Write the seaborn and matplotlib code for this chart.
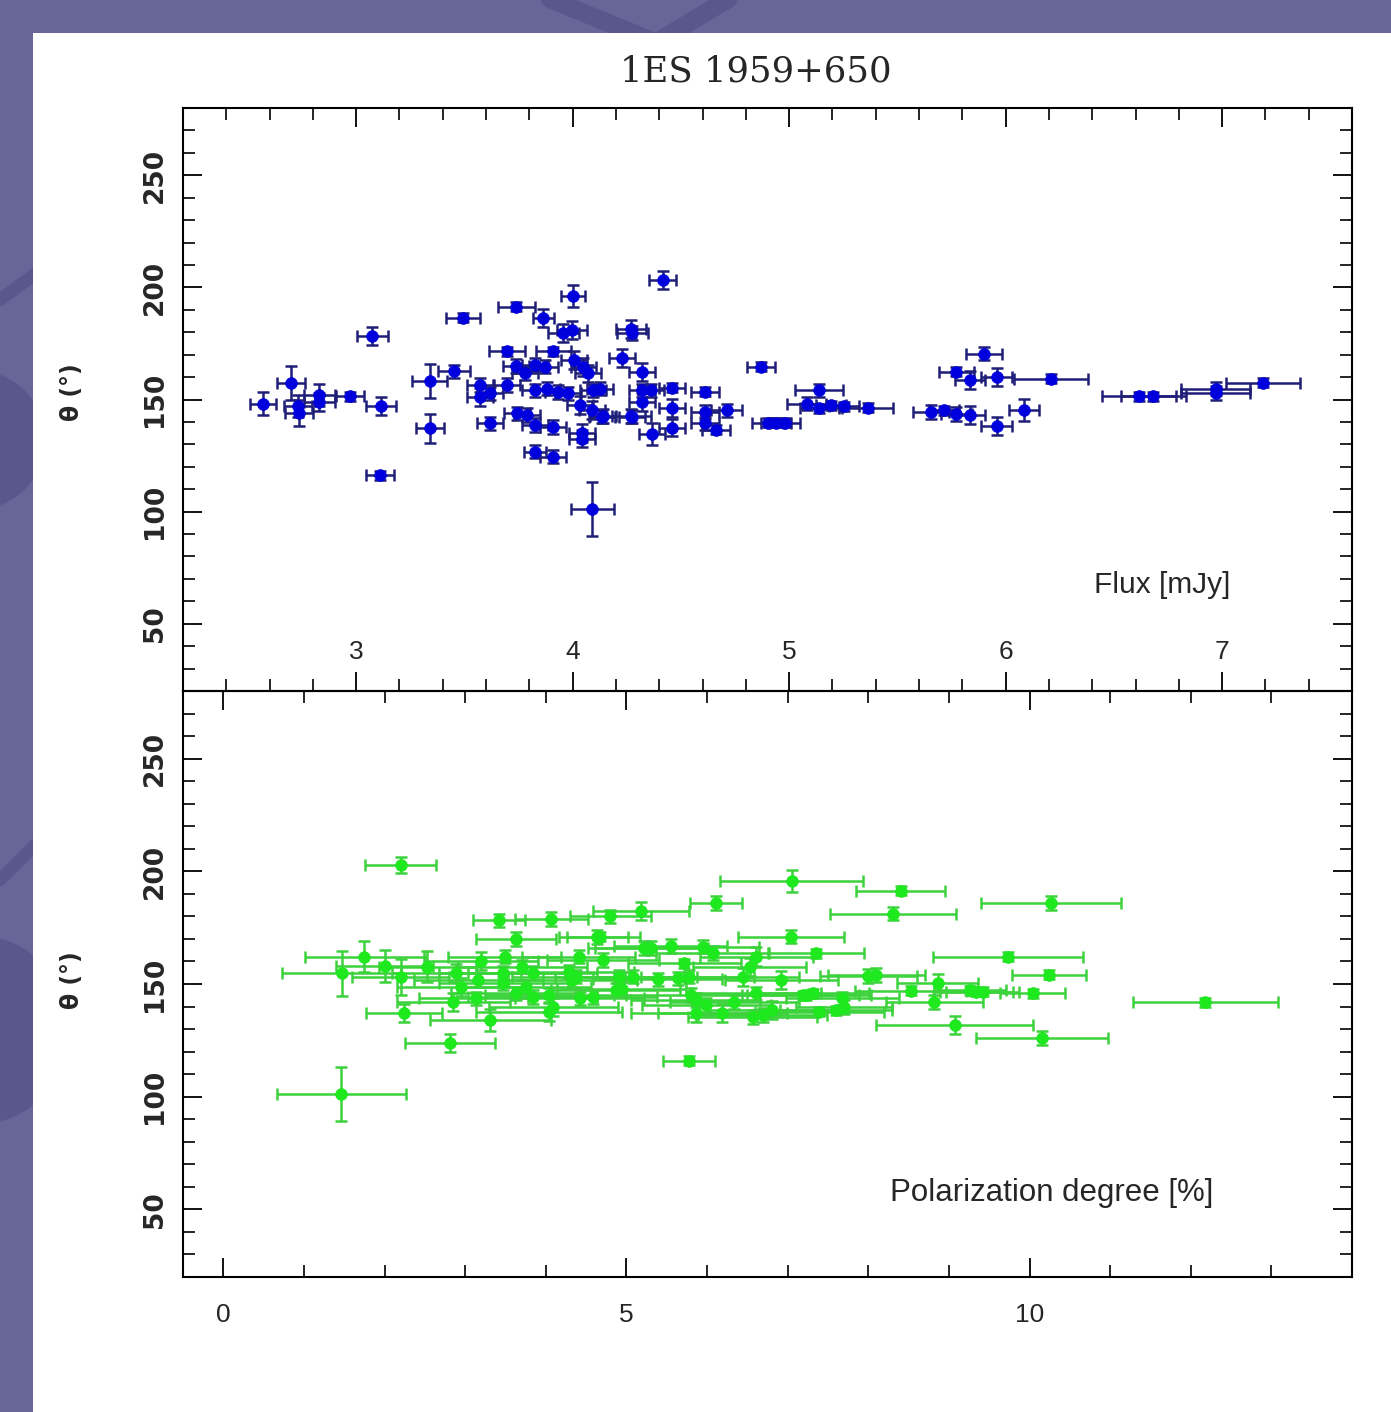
import numpy as np
import pandas as pd
import matplotlib
matplotlib.use("Agg")
import matplotlib.pyplot as plt
import seaborn as sns
from matplotlib.patches import Rectangle, Ellipse
from matplotlib.lines import Line2D
from matplotlib.ticker import MultipleLocator

# ---------------- data ----------------
flux = [2.57, 2.70, 2.73, 2.735, 2.83, 2.83, 2.97, 3.075, 3.114, 3.11,
        3.34, 3.34, 3.45, 3.495, 3.74, 3.865, 4.00, 3.957, 3.996, 4.09,
        4.227, 4.27, 4.276, 4.416, 4.32, 4.32, 4.36, 4.46, 4.611, 4.32,
        4.46, 4.27, 4.14, 4.365, 4.46, 4.611, 4.711, 4.611, 4.662, 4.87,
        4.90, 4.94, 4.98, 5.138, 5.081, 5.138, 5.193, 5.253, 5.362, 5.655,
        5.716, 5.773, 5.835, 5.773, 5.835, 5.90, 5.958, 5.958, 6.085, 6.21,
        6.617, 6.681, 6.97, 6.97, 7.19, 3.696, 3.911, 3.739, 3.826, 3.873,
        4.004, 4.05, 4.073, 3.78, 3.572, 3.619, 3.572, 3.696, 3.826, 3.88,
        3.934, 3.98, 4.096, 4.127, 3.742, 3.788, 3.616, 3.826, 3.911, 4.034,
        4.088, 4.134, 4.042, 4.042, 4.273, 3.826, 3.911]
theta_flux = [148.2, 157.4, 147.0, 144.0, 152.0, 149.0, 151.5, 178.2, 147.2, 116.3,
              158.3, 137.1, 162.6, 186.4, 191.3, 186.5, 196.2, 179.7, 181.2, 101.2,
              168.3, 181.6, 179.6, 203.1, 162.3, 154.1, 154.1, 155.2, 153.4, 148.7,
              146.3, 142.6, 142.6, 134.5, 137.5, 144.5, 145.2, 139.3, 136.6, 164.6,
              139.6, 139.6, 139.6, 154.1, 148.2, 146.1, 147.5, 147.0, 146.3, 144.5,
              145.2, 143.5, 143.0, 162.3, 158.6, 170.5, 160.1, 138.1, 145.2, 159.3,
              151.5, 151.5, 154.9, 153.0, 157.4, 171.5, 171.5, 165.0, 165.6, 164.6,
              167.5, 164.6, 161.6, 161.6, 156.4, 152.7, 151.2, 156.4, 154.1, 154.9,
              153.4, 152.7, 154.1, 154.9, 143.8, 143.0, 139.3, 138.6, 137.8, 147.5,
              145.2, 142.3, 134.9, 132.6, 142.3, 126.7, 124.5]
flux_err = [0.06, 0.065, 0.065, 0.065, 0.07, 0.07, 0.065, 0.07, 0.07, 0.065,
            0.08, 0.065, 0.074, 0.078, 0.085, 0.05, 0.056, 0.07, 0.07, 0.10,
            0.06, 0.07, 0.07, 0.062, 0.06, 0.06, 0.06, 0.06, 0.065, 0.06,
            0.06, 0.09, 0.06, 0.06, 0.06, 0.065, 0.07, 0.065, 0.065, 0.063,
            0.07, 0.07, 0.07, 0.11, 0.09, 0.09, 0.07, 0.07, 0.12, 0.085,
            0.07, 0.07, 0.07, 0.08, 0.07, 0.085, 0.07, 0.07, 0.07, 0.17,
            0.17, 0.15, 0.16, 0.16, 0.17, 0.082, 0.08, 0.06, 0.06, 0.06,
            0.06, 0.06, 0.06, 0.06, 0.06, 0.06, 0.06, 0.06, 0.06, 0.06,
            0.06, 0.06, 0.06, 0.06, 0.06, 0.06, 0.06, 0.06, 0.06, 0.06,
            0.06, 0.06, 0.06, 0.06, 0.06, 0.05, 0.06]
theta_flux_err = [5, 7.5, 5, 6, 5, 4, 2, 4, 4, 2,
                  7.5, 6.5, 3, 2, 2, 4, 5, 4, 4, 12,
                  4, 4, 3, 4, 4, 3, 3, 2, 2, 4,
                  4, 3, 3, 5, 4, 3, 3, 3, 2, 2,
                  2, 2, 2, 3, 3, 2, 2, 2, 2, 3,
                  2, 3, 4, 2, 4, 3, 4, 4, 5, 2,
                  2, 2, 3, 3, 2, 2, 2, 3, 3, 3,
                  4, 4, 4, 3, 3, 3, 4, 3, 3, 3,
                  3, 3, 3, 3, 3, 3, 3, 3, 3, 4,
                  4, 3, 4, 4, 3, 3, 3]

pol = [2.20, 1.46, 1.47, 1.75, 2.00, 2.20, 2.53, 2.24, 2.81, 3.31,
       3.42, 4.07, 3.63, 4.64, 4.80, 5.18, 6.11, 7.05, 8.40, 8.31,
       10.27, 9.73, 10.24, 10.04, 12.18, 10.15, 9.07, 8.82, 9.26, 9.34,
       9.42, 8.86, 8.53, 8.00, 8.10, 7.35, 7.23, 7.68, 7.70, 7.39,
       7.60, 5.78, 7.04, 4.67, 5.22, 5.31, 5.55, 5.95, 6.07, 4.71,
       5.72, 6.61, 6.53, 6.44, 6.92, 7.19, 7.31, 4.91, 5.08, 5.39,
       5.64, 5.78, 4.87, 5.80, 5.86, 5.99, 6.34, 5.86, 6.19, 6.57,
       6.69, 6.81, 4.41, 4.29, 4.38, 4.33, 4.04, 4.09, 4.42, 4.58,
       6.61, 2.89, 2.95, 3.13, 3.20, 3.49, 2.85, 4.04, 3.71, 3.84,
       3.76, 3.63, 3.84, 3.47, 3.47, 3.16, 4.94]
theta_pol = [202.7, 101.0, 154.8, 162.2, 158.1, 153.3, 157.7, 137.2, 123.9, 134.0,
             178.2, 178.9, 170.0, 170.8, 180.0, 182.2, 186.0, 195.7, 191.4, 181.2,
             186.0, 162.0, 154.0, 146.0, 142.0, 126.0, 132.0, 142.1, 147.3, 146.6,
             146.6, 150.4, 146.9, 153.6, 154.0, 163.7, 145.1, 143.6, 139.9, 137.7,
             138.4, 115.9, 171.0, 171.0, 165.9, 165.9, 166.9, 166.6, 163.7, 160.7,
             159.2, 162.2, 157.7, 153.3, 151.8, 145.1, 145.8, 153.3, 153.3, 152.0,
             152.5, 153.3, 147.3, 145.1, 142.9, 140.6, 141.9, 137.0, 137.0, 135.4,
             136.2, 138.4, 162.2, 155.5, 153.3, 151.8, 145.1, 139.9, 143.6, 144.3,
             145.8, 154.8, 148.8, 143.6, 160.0, 162.2, 142.1, 137.7, 157.7, 154.8,
             148.8, 145.8, 144.3, 154.8, 150.3, 151.8, 148.0]
pol_err = [0.44, 0.80, 0.74, 0.74, 0.60, 0.60, 0.60, 0.47, 0.56, 0.75,
           0.32, 0.45, 0.50, 0.38, 0.50, 0.60, 0.32, 0.89, 0.55, 0.78,
           0.87, 0.93, 0.46, 0.40, 0.90, 0.82, 0.97, 0.60, 0.45, 0.45,
           0.45, 0.50, 0.70, 0.60, 0.60, 0.60, 0.80, 0.70, 0.60, 0.80,
           0.70, 0.32, 0.66, 0.50, 0.70, 0.70, 0.70, 0.70, 0.70, 0.70,
           0.70, 0.70, 0.70, 0.70, 0.70, 0.70, 0.70, 0.80, 0.80, 0.80,
           0.80, 0.80, 0.80, 0.80, 0.80, 0.80, 0.80, 0.80, 0.80, 0.80,
           0.80, 0.80, 0.70, 0.80, 0.80, 0.80, 0.80, 0.80, 0.80, 0.80,
           0.80, 0.80, 0.80, 0.70, 0.70, 0.70, 0.70, 0.90, 0.80, 0.80,
           0.80, 0.80, 0.80, 0.80, 0.80, 0.80, 0.80]
theta_pol_err = [3.5, 12, 10, 7, 7, 8, 7, 4, 4, 5,
                 3, 3, 3, 3, 3, 4, 3, 5, 2, 3,
                 3, 2, 2, 2, 2, 3, 4, 3, 2, 2,
                 2, 4, 2, 3, 3, 2, 2, 3, 3, 2,
                 2, 2, 3, 2, 3, 3, 3, 3, 3, 3,
                 2, 4, 4, 4, 4, 2, 2, 3, 3, 3,
                 3, 3, 3, 3, 3, 3, 3, 4, 4, 3,
                 3, 4, 3, 3, 3, 3, 3, 4, 3, 3,
                 3, 4, 4, 3, 4, 3, 4, 4, 3, 3,
                 3, 3, 3, 3, 3, 3, 3]

title_text = "1ES 1959+650"
ylabel_text = "θ (°)"
top_xlabel = "Flux [mJy]"
bottom_xlabel = "Polarization degree [%]"
top_xticks = [3, 4, 5, 6, 7]
bottom_xticks = [0, 5, 10]
yticks = [50, 100, 150, 200, 250]

# ---------------- figure ----------------
sns.set_style("ticks")
W, H = 1391, 1412
fig = plt.figure(figsize=(W / 100, H / 100), dpi=100)
fig.patch.set_facecolor("#666699")
deco = "#58588c"
# V-shaped decoration at the top of the slide background
fig.add_artist(Line2D([540 / W, 662 / W], [1 + 5 / H, 1 - 45 / H],
                      transform=fig.transFigure, color=deco, lw=13, zorder=-2))
fig.add_artist(Line2D([735 / W, 652 / W], [1 + 5 / H, 1 - 45 / H],
                      transform=fig.transFigure, color=deco, lw=13, zorder=-2))
# rounded shapes on the left strip
for cy, r in [(440, 70), (1030, 95)]:
    fig.add_artist(Ellipse((-25 / W, 1 - cy / H), 2 * r / W, 2 * r / H,
                           transform=fig.transFigure, facecolor=deco,
                           edgecolor="none", zorder=-2))
fig.add_artist(Line2D([0, 40 / W], [1 - 300 / H, 1 - 270 / H],
                      transform=fig.transFigure, color=deco, lw=9, zorder=-2))
fig.add_artist(Line2D([0, 40 / W], [1 - 880 / H, 1 - 840 / H],
                      transform=fig.transFigure, color=deco, lw=9, zorder=-2))
fig.add_artist(Rectangle((33 / W, 0), 1 - 33 / W, 1 - 33 / H,
                         transform=fig.transFigure, facecolor="white",
                         edgecolor="none", zorder=-1))

left = 183 / W
width = (1352 - 183) / W
ax1 = fig.add_axes([left, 1 - 691 / H, width, (691 - 108) / H])
ax2 = fig.add_axes([left, 1 - 1277 / H, width, (1277 - 691) / H])

df1 = pd.DataFrame({"x": flux, "y": theta_flux, "xe": flux_err, "ye": theta_flux_err})
df2 = pd.DataFrame({"x": pol, "y": theta_pol, "xe": pol_err, "ye": theta_pol_err})

specs = [(ax1, df1, "#0000dd", "#1e1e78"), (ax2, df2, "#1ee81e", "#3cd23c")]
for ax, df, mc, ec in specs:
    ax.set_facecolor("none")
    ax.errorbar(df["x"], df["y"], xerr=df["xe"], yerr=df["ye"], fmt="none",
                ecolor=ec, elinewidth=1.8, capsize=4.5, capthick=1.8, zorder=2)
    sns.scatterplot(data=df, x="x", y="y", ax=ax, color=mc, s=72,
                    edgecolor=mc, linewidth=0.5, zorder=3, legend=False)
    ax.set_xlabel("")
    ax.set_ylabel("")
    ax.set_ylim(20, 280)
    ax.set_yticks(yticks)
    ax.yaxis.set_minor_locator(MultipleLocator(10))
    for s in ax.spines.values():
        s.set_visible(True)
        s.set_linewidth(1.5)
        s.set_color("black")
    ax.tick_params(which="both", direction="in", top=True, right=True,
                   bottom=True, left=True, color="black")
    ax.tick_params(which="major", length=14, width=1.3)
    ax.tick_params(which="minor", length=8.5, width=1.2)
    ax.tick_params(axis="y", which="major", labelrotation=90, pad=11,
                   labelsize=19)
    for lbl in ax.get_yticklabels():
        lbl.set_fontweight("bold")
        lbl.set_family("DejaVu Sans")
        lbl.set_va("center")

ax1.set_xlim(2.2, 7.6)
ax1.set_xticks(top_xticks)
ax1.xaxis.set_minor_locator(MultipleLocator(0.2))
ax1.tick_params(axis="x", which="major", pad=-37, labelsize=19)

ax2.set_xlim(-0.5, 14)
ax2.set_xticks(bottom_xticks)
ax2.xaxis.set_minor_locator(MultipleLocator(1))
ax2.tick_params(axis="x", which="major", pad=19, labelsize=19)

for ax in (ax1, ax2):
    for lbl in ax.get_xticklabels():
        lbl.set_family("Liberation Sans")

ax1.text(0.8375, 0.182, top_xlabel, transform=ax1.transAxes, ha="center",
         va="center", fontsize=21.5, family="Liberation Sans")
ax2.text(0.7434, 0.143, bottom_xlabel, transform=ax2.transAxes, ha="center",
         va="center", fontsize=22.5, family="Liberation Sans")

fig.text(756 / W, 1 - 72 / H, title_text, ha="center", va="center",
         fontsize=25.5, family="DejaVu Serif")
fig.text(72 / W, 1 - 392 / H, ylabel_text, rotation=90, ha="center",
         va="center", fontsize=17, fontweight="bold", family="DejaVu Sans")
fig.text(72 / W, 1 - 980 / H, ylabel_text, rotation=90, ha="center",
         va="center", fontsize=17, fontweight="bold", family="DejaVu Sans")

fig.savefig("out.png", dpi=100, facecolor=fig.get_facecolor())
